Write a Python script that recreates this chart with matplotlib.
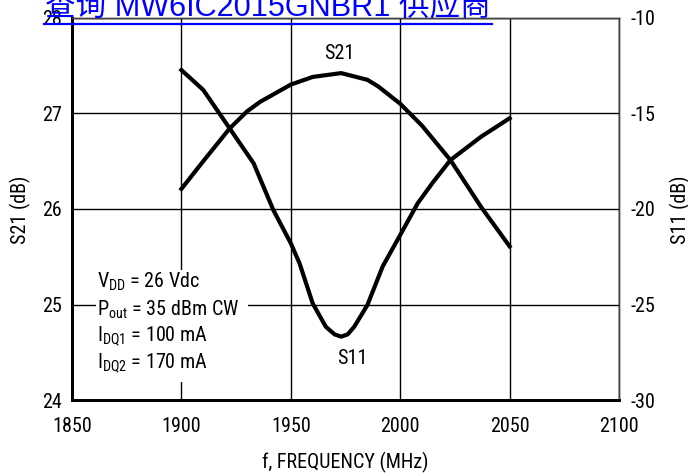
import matplotlib
matplotlib.use("Agg")
import matplotlib.pyplot as plt
from matplotlib.lines import Line2D
from matplotlib.patches import Rectangle

plt.rcParams['font.family'] = ['Roboto Condensed', 'DejaVu Sans']
plt.rcParams['mathtext.fontset'] = 'custom'
plt.rcParams['mathtext.rm'] = 'Roboto Condensed'

# S21 gain (left axis)
s21_freq = [1900, 1910, 1922, 1930, 1936, 1950, 1960, 1973, 1985, 1990, 2000, 2010, 2023, 2037, 2050]
s21_db = [26.21, 26.50, 26.84, 27.02, 27.12, 27.30, 27.38, 27.42, 27.35, 27.28, 27.10, 26.87, 26.51, 26.02, 25.61]

# S11 input return loss (right axis)
s11_freq = [1900, 1910, 1922, 1933, 1942, 1950, 1954, 1960, 1966, 1970, 1973, 1976, 1979, 1985,
            1992, 2000, 2008, 2015, 2023, 2037, 2050]
s11_db = [-12.74, -13.78, -15.78, -17.61, -20.05, -21.79, -22.84, -24.93, -26.15, -26.55, -26.67,
          -26.55, -26.15, -25.02, -23.0, -21.36, -19.70, -18.6, -17.44, -16.22, -15.26]

x_ticks = [1850, 1900, 1950, 2000, 2050, 2100]
left_ticks = [24, 25, 26, 27, 28]
right_ticks = [-30, -25, -20, -15, -10]

conditions = ["V$_{\\mathregular{DD}}$ = 26 Vdc",
              "P$_{\\mathregular{out}}$ = 35 dBm CW",
              "I$_{\\mathregular{DQ1}}$ = 100 mA",
              "I$_{\\mathregular{DQ2}}$ = 170 mA"]

FS = 14.5
W, H = 688, 474

fig = plt.figure(figsize=(6.88, 4.74), dpi=100)
ax = fig.add_axes([72 / W, 1 - 400.4 / H, 547 / W, 382.8 / H])
ax2 = ax.twinx()

ax.set_xlim(1850, 2100)
ax.set_ylim(24, 28)
ax2.set_ylim(-30, -10)

ax.set_xticks(x_ticks)
ax.set_yticks(left_ticks)
ax2.set_yticks(right_ticks)
ax2.set_yticklabels([f"-{abs(v)}" for v in right_ticks])

ax.grid(True, color='black', linewidth=1.0)
ax.set_axisbelow(True)
ax.tick_params(axis='both', length=0, labelsize=FS)
ax.tick_params(axis='y', pad=7)
ax.tick_params(axis='x', pad=12)
ax2.tick_params(axis='y', length=0, labelsize=FS, pad=8.5)

for a in (ax, ax2):
    for sp in ['left', 'bottom']:
        a.spines[sp].set_linewidth(2.0)
    for sp in ['top', 'right']:
        a.spines[sp].set_linewidth(1.0)
        a.spines[sp].set_color('#444444')

# white backdrop behind the bias conditions block
ax.add_patch(Rectangle((1861, 24.19), 69.5, 1.17, facecolor='white', edgecolor='none', zorder=1.5))

ax2.plot(s11_freq, s11_db, color='black', linewidth=3.0, solid_joinstyle='round', zorder=3)
ax.plot(s21_freq, s21_db, color='black', linewidth=3.0, solid_joinstyle='round', zorder=3)
ax.set_zorder(ax2.get_zorder() + 1)
ax.patch.set_visible(False)

ax.text(1972, 27.62, 'S21', fontsize=FS, ha='center', va='center')
ax.text(1978, 24.44, 'S11', fontsize=FS, ha='center', va='center')

cond_y = [25.237, 24.944, 24.672, 24.39]
for txt, yv in zip(conditions, cond_y):
    ax.text(1861.3, yv, txt, fontsize=FS, ha='left', va='center', zorder=4)

fig.text(20 / W, 1 - 210 / H, 'S21 (dB)', fontsize=FS, rotation=90, ha='center', va='center')
fig.text(680 / W, 1 - 210 / H, 'S11 (dB)', fontsize=FS, rotation=90, ha='center', va='center')
fig.text(345 / W, 1 - 462 / H, 'f, FREQUENCY (MHz)', fontsize=FS, ha='center', va='center')

# hyperlink banner across the top, sized to span its underline
banner = fig.text(45 / W, 1 - 15 / H, '查询 MW6IC2015GNBR1 供应商', color='#0000ff', fontsize=20,
                  family=['Liberation Sans', 'Noto Sans CJK SC'], ha='left', va='baseline')
fig.canvas.draw()
bw = banner.get_window_extent().width
banner.set_fontsize(20 * 445 / bw)
fig.add_artist(Line2D([44 / W, 492 / W], [1 - 23.5 / H, 1 - 23.5 / H],
                      transform=fig.transFigure, color='#0000ff', linewidth=1.6))

fig.savefig('out.png', dpi=100)
